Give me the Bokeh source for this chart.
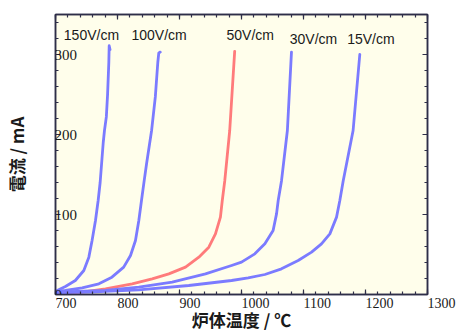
import math
from bokeh.plotting import figure
from bokeh.models import (Range1d, SingleIntervalTicker, FixedTicker, LinearAxis, LabelSet,
                          ColumnDataSource, CustomLabelingPolicy)
from bokeh.core.properties import value
from bokeh.embed import file_html
from bokeh.resources import INLINE

# ---- data ----
x150 = [700, 716, 732, 745.7, 753.8, 759, 764.5, 768.8, 772, 775, 777, 779, 782, 784, 786, 786.6, 788]
y150 = [4, 10, 17.5, 30, 46.7, 67.5, 92.5, 117.5, 140, 170, 190, 205, 222, 250, 290, 311, 306]

x100 = [700, 716, 743, 770, 791, 810, 821, 829, 834.4, 838.7, 843, 847, 855, 861, 865, 866.6, 869]
y100 = [4, 5, 8.3, 13.3, 21.7, 34.2, 48.75, 67.5, 92.5, 117.5, 142, 164, 205, 247, 290, 302, 303]

x50 = [700, 743, 780.6, 823.7, 856, 882.8, 909.7, 931.2, 947.3, 958, 966, 969, 973, 981, 989]
y50 = [1, 2.9, 7.1, 13.3, 19.6, 25.8, 34.2, 46.7, 59.2, 75.8, 96.7, 117.5, 142, 205, 304]

x30 = [700, 780.6, 834.4, 888.2, 941.9, 984, 1000, 1021.5, 1037.7, 1051, 1056.5, 1059.2, 1064.5, 1074, 1080.6]
y30 = [3, 5, 9.2, 15.4, 25.8, 36.3, 40.4, 50.8, 63.3, 80, 100.8, 117.5, 142, 205, 303]

x15 = [700, 753.8, 834.4, 915, 984, 1010.8, 1037.7, 1064.5, 1091.4, 1113, 1129, 1142.5, 1153.3, 1158.6, 1164, 1180, 1190.8]
y15 = [2, 3, 5.8, 11.25, 17.5, 20.8, 25, 32.1, 42.5, 52.9, 63.3, 75.8, 96.7, 117.5, 142, 205, 300]

curve_names = ["150V/cm", "100V/cm", "50V/cm", "30V/cm", "15V/cm"]
label_x = [713.4, 822.6, 975.8, 1077.9, 1170.5]
label_y = [324, 324, 325, 320, 320]

x_ticks = [700, 800, 900, 1000, 1100, 1200, 1300]
x_tick_labels = ["700", "800", "900", "1000", "1100", "1200", "1300"]
y_ticks = [0, 100, 200, 300]
y_tick_labels = ["0", "100", "200", "300"]

x_title = "炉体温度 / ℃"
y_title = "電流 / mA"

BLUE = "#7b7bff"
RED = "#ff7b7b"
AXIS = "#2e2e48"
TXT = "#1a1a1a"

X0, X1, Y0, Y1 = 700, 1300, 0, 350
FW, FH = 372, 280

p = figure(frame_width=FW, frame_height=FH, x_range=Range1d(X0, X1), y_range=Range1d(Y0, Y1),
           output_backend="svg", toolbar_location=None,
           min_border_left=54, min_border_right=30, min_border_top=14, min_border_bottom=36)
p.background_fill_color = "#fffeeb"
p.border_fill_color = "white"
p.outline_line_color = AXIS
p.outline_line_width = 1.5
p.xgrid.visible = False
p.ygrid.visible = False

def style_axis(ax, interval):
    ax.ticker = SingleIntervalTicker(interval=interval, num_minor_ticks=5)
    ax.major_tick_in = 5
    ax.major_tick_out = 0
    ax.minor_tick_in = 3
    ax.minor_tick_out = 0
    ax.major_tick_line_color = AXIS
    ax.minor_tick_line_color = AXIS
    ax.major_tick_line_width = 1.2
    ax.minor_tick_line_width = 1.2
    ax.axis_line_color = AXIS
    ax.axis_line_width = 1.5
    ax.major_label_policy = CustomLabelingPolicy(code="return new Set()")
    ax.major_label_text_font_size = "1px"
    ax.major_label_standoff = 0

style_axis(p.xaxis[0], 100)
style_axis(p.yaxis[0], 100)
ra = LinearAxis()
style_axis(ra, 100)
p.add_layout(ra, "right")
ta = LinearAxis()
style_axis(ta, 100)
p.add_layout(ta, "above")

# y title on left axis
ly = p.yaxis[0]
ly.axis_label = y_title
ly.axis_label_standoff = 22
ly.axis_label_text_font = "Noto Sans CJK JP"
ly.axis_label_text_font_size = "17px"
ly.axis_label_text_font_style = "bold"
ly.axis_label_text_color = TXT

# x tick labels (left-aligned at the ticks via a tiny negative orientation) + x title
lab_ax = LinearAxis(ticker=FixedTicker(ticks=x_ticks),
                    major_label_overrides={t: s for t, s in zip(x_ticks, x_tick_labels)})
lab_ax.axis_line_color = None
lab_ax.major_tick_line_color = None
lab_ax.minor_tick_line_color = None
lab_ax.major_tick_in = 0
lab_ax.major_tick_out = 0
lab_ax.major_label_standoff = 4
lab_ax.major_label_orientation = -0.0001
lab_ax.major_label_text_font = "Liberation Serif"
lab_ax.major_label_text_font_size = "14px"
lab_ax.major_label_text_color = TXT
lab_ax.axis_label = x_title
lab_ax.axis_label_standoff = -9
lab_ax.axis_label_text_font = "Noto Sans CJK JP"
lab_ax.axis_label_text_font_size = "17px"
lab_ax.axis_label_text_font_style = "bold"
lab_ax.axis_label_text_color = TXT
p.add_layout(lab_ax, "below")

# curves
for xs, ys, col in [(x150, y150, BLUE), (x100, y100, BLUE), (x50, y50, RED), (x30, y30, BLUE), (x15, y15, BLUE)]:
    p.line(xs, ys, line_color=col, line_width=2.8, line_join="round", line_cap="round")

# curve labels
p.text(x=label_x, y=label_y, text=curve_names, text_font=value("Liberation Sans"),
       text_font_size="14px", text_align="left", text_baseline="middle", text_color=TXT)

# y tick labels (drawn inside the frame, starting at the axis)
ys_src = ColumnDataSource(dict(x=[X0] * len(y_ticks), y=y_ticks, t=y_tick_labels))
p.add_layout(LabelSet(x="x", y="y", text="t", source=ys_src, x_offset=-1,
                      text_align="left", text_baseline="middle", text_font="Liberation Serif",
                      text_font_size="15px", text_color=TXT))

open("out.html", "w").write(file_html(p, INLINE))
